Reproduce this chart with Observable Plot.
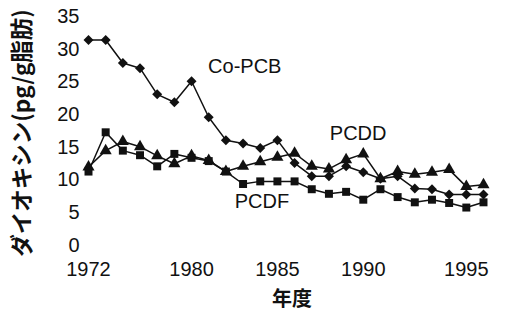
<!DOCTYPE html>
<html>
<head>
<meta charset="utf-8">
<script src="https://cdn.jsdelivr.net/npm/d3@7"></script>
<script src="https://cdn.jsdelivr.net/npm/@observablehq/plot@0.6"></script>
<style>
  html, body { margin: 0; padding: 0; background: #fff; }
  #chart svg { display: block; }
</style>
</head>
<body>
<div id="chart"></div>
<script>
// x categories (survey order), with labelled years at certain positions
const periods = [0, 1, 2, 3, 4, 5, 6, 7, 8, 9, 10, 11, 12, 13, 14, 15, 16, 17, 18, 19, 20, 21, 22, 23];
const xTickPositions = [0, 6, 11, 16, 22];
const xTickLabels = ["1972", "1980", "1985", "1990", "1995"];
const yTicks = [0, 5, 10, 15, 20, 25, 30, 35];

const seriesNames = ["Co-PCB", "PCDD", "PCDF"];
const coPCB = [31.4, 31.4, 27.9, 27.1, 23.1, 21.9, 25.1, 19.6, 16.1, 15.6, 14.9, 16.1, 12.6, 10.6, 10.6, 12.1, 11.2, 10.2, 10.6, 8.7, 8.6, 7.8, 7.8, 7.8];
const pcdd  = [12.0, 14.5, 15.9, 15.1, 13.7, 12.5, 13.7, 13.0, 11.3, 12.1, 12.8, 13.5, 14.1, 12.1, 11.7, 13.1, 14.0, 10.2, 11.3, 10.9, 11.2, 11.6, 9.0, 9.3];
const pcdf  = [11.3, 17.3, 14.5, 13.8, 12.1, 14.0, 13.4, 12.9, 11.3, 9.4, 9.8, 9.8, 9.8, 8.6, 7.9, 8.2, 7.0, 8.6, 7.4, 6.6, 7.0, 6.5, 5.8, 6.6];
const symbols = ["diamond2", "triangle", "square"];

// annotation positions (in data units)
const labelX = [9.1, 15.7, 10.1];
const labelY = [27.4, 17.1, 6.7];

const yLabel = "ダイオキシン(pg/g脂肪)";
const xLabel = "年度";

const allValues = [coPCB, pcdd, pcdf];
const rows = [];
seriesNames.forEach((s, k) => periods.forEach((p, i) => rows.push({series: s, x: p, y: allValues[k][i], symbol: symbols[k]})));
const labels = seriesNames.map((s, k) => ({text: s, x: labelX[k], y: labelY[k]}));

const chart = Plot.plot({
  width: 505,
  height: 324,
  marginLeft: 88,
  marginRight: 22,
  marginTop: 16,
  marginBottom: 79,
  x: {domain: [0, 23]},
  y: {domain: [0, 35]},
  style: {fontFamily: "'Liberation Sans', Arial, 'Noto Sans CJK JP', sans-serif", fontSize: "20px", color: "#111", background: "#fff"},
  marks: [
    Plot.axisY({ticks: yTicks, tickSize: 0, tickPadding: 9, label: null}),
    Plot.axisX({ticks: xTickPositions, tickFormat: d => xTickLabels[xTickPositions.indexOf(d)], tickSize: 0, tickPadding: 16, label: null}),
    Plot.text([yLabel], {frameAnchor: "left", textAnchor: "middle", rotate: -90, dx: -66, dy: 2, fontSize: 22.5, fontWeight: "bold", fontFamily: "'Noto Sans CJK JP', sans-serif", fill: "#111"}),
    Plot.text([xLabel], {frameAnchor: "bottom", dx: 6, dy: 60, fontSize: 20, fontWeight: "bold", fontFamily: "'Noto Sans CJK JP', sans-serif", fill: "#111"}),
    Plot.line(rows, {x: "x", y: "y", z: "series", stroke: "#111", strokeWidth: 1.5}),
    Plot.dot(rows, {x: "x", y: "y", symbol: "symbol", fill: "#111", stroke: "none", r: 4.5}),
    Plot.text(labels, {x: "x", y: "y", text: "text", fontSize: 20, fill: "#111"})
  ],
  symbol: {type: "identity"}
});
document.getElementById("chart").appendChild(chart);
</script>
</body>
</html>
